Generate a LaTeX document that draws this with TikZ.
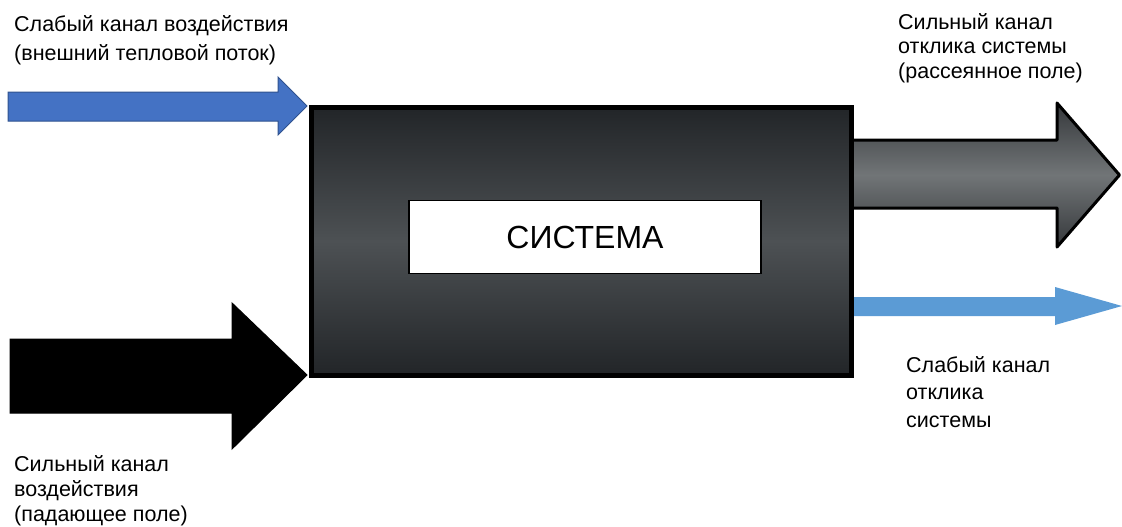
\documentclass[tikz,border=0pt]{standalone}
\usepackage{fontspec}
\setmainfont{Liberation Sans}
\begin{document}
\begin{tikzpicture}[x=1pt,y=-1pt,
  lbl/.style={anchor=base west,inner sep=0pt,align=left},
  darkbox/.style={line width=5pt,draw=black,top color=boxdark,bottom color=boxdark,middle color=boxmid},
]
\definecolor{boxdark}{HTML}{222528}
\definecolor{boxmid}{HTML}{4D5154}
\definecolor{grayedge}{HTML}{35383B}
\definecolor{graymid}{HTML}{717577}
\definecolor{blueA}{HTML}{4472C4}
\definecolor{blueAedge}{HTML}{2F528F}
\definecolor{blueB}{HTML}{5B9BD5}
\useasboundingbox (0,0) rectangle (1122,527);

% strong output arrow (grey)
\draw[line width=3pt,draw=black,line join=round,top color=grayedge,bottom color=grayedge,middle color=graymid]
  (850,140) -- (1057,140) -- (1057,103) -- (1119.5,175) -- (1057,247) -- (1057,208) -- (850,208) -- cycle;
% weak output arrow (light blue)
\fill[blueB] (850,297) -- (1055,297) -- (1055,287) -- (1122,306) -- (1055,325) -- (1055,316) -- (850,316) -- cycle;
% weak input arrow (blue)
\draw[line width=1pt,draw=blueAedge,fill=blueA,line join=miter]
  (8,92) -- (278,92) -- (278,77) -- (307,106) -- (278,135) -- (278,121) -- (8,121) -- cycle;
% strong input arrow (black)
\draw[line width=1pt,fill=black,line join=miter]
  (10,339) -- (232,339) -- (232,303) -- (307,375) -- (232,449) -- (232,413) -- (10,413) -- cycle;

% system box
\node[darkbox,minimum width=540pt,minimum height=268pt,inner sep=0pt] (sys) at (581,241) {};
\node[draw=black,line width=1.5pt,fill=white,minimum width=352pt,minimum height=73pt,inner sep=0pt,font=\fontsize{32}{36}\selectfont] (core) at (585,237) {СИСТЕМА};

% labels (anchor base = baseline of last line)
\node[lbl,font=\fontsize{21.5}{29}\selectfont] (t1) at (14,60.5) {Слабый канал воздействия\\(внешний тепловой поток)};
\node[lbl,font=\fontsize{21.5}{24.5}\selectfont] (t2) at (898,78) {Сильный канал\\отклика системы\\(рассеянное поле)};
\node[lbl,font=\fontsize{21.5}{27.5}\selectfont] (t3) at (906,427) {Слабый канал\\отклика\\системы};
\node[lbl,font=\fontsize{21.5}{25}\selectfont] (t4) at (14,521.5) {Сильный канал\\воздействия\\(падающее поле)};
\end{tikzpicture}
\end{document}
